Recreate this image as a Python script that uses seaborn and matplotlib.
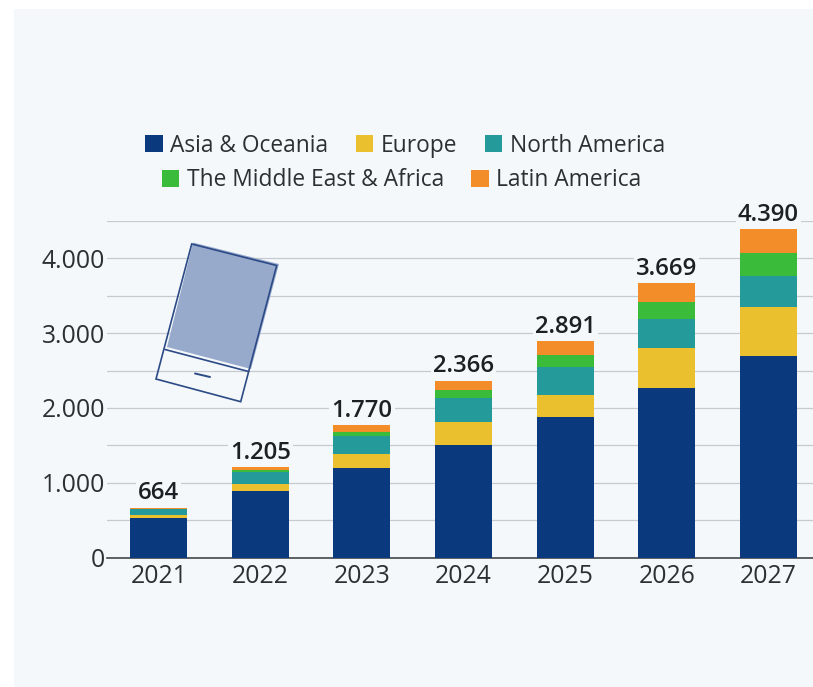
import matplotlib
matplotlib.use("Agg")
import matplotlib.pyplot as plt
from matplotlib.patches import Polygon, Rectangle
from matplotlib.lines import Line2D
from matplotlib.transforms import Affine2D
import numpy as np
import pandas as pd
import seaborn as sns

years = ["2021", "2022", "2023", "2024", "2025", "2026", "2027"]
asia_oceania = [522, 892, 1195, 1506, 1873, 2265, 2694]
europe = [40, 85, 183, 300, 303, 540, 660]
north_america = [84, 169, 245, 321, 366, 392, 410]
middle_east_africa = [6, 31, 58, 111, 165, 223, 312]
latin_america = [12, 28, 89, 128, 184, 249, 314]

region_names = ["Asia & Oceania", "Europe", "North America",
                "The Middle East & Africa", "Latin America"]
region_values = [asia_oceania, europe, north_america,
                 middle_east_africa, latin_america]
region_colors = ["#0b397d", "#ebc02e", "#259a9a", "#3abc3a", "#f28d2a"]

y_major = [0, 1000, 2000, 3000, 4000]
y_minor = [500, 1500, 2500, 3500, 4500]

PANEL = "#f4f8fb"
INK = "#2b3034"
GRID = "#c5cbd0"
W, H = 813, 687

sns.set_theme(style="white")
plt.rcParams["font.family"] = ["Open Sans", "DejaVu Sans"]

fig = plt.figure(figsize=(W / 100, H / 100), dpi=100, facecolor="white")

# Pixel coordinates measured from the top-left corner of the canvas
px = Affine2D().scale(1, -1).translate(0, H)
fig.patches.append(Rectangle((14, 9), W - 14, H - 9, transform=px,
                             facecolor=PANEL, edgecolor="none", zorder=-5))

ax = fig.add_axes([107 / W, (H - 557.5) / H, (W - 107) / W, (557.5 - 220.5) / H])
ax.patch.set_alpha(0)

frame = pd.DataFrame({"year": years})
bottom = np.zeros(len(years))
handles = []
for name, values, color in zip(region_names, region_values, region_colors):
    sns.barplot(data=frame.assign(v=values), x="year", y="v", color=color,
                saturation=1, width=0.561, bottom=bottom, ax=ax, zorder=3,
                linewidth=0, errorbar=None)
    handles.append(Rectangle((0, 0), 1, 1, facecolor=color, edgecolor="none"))
    bottom = bottom + np.array(values)
totals = bottom.astype(int)

ax.set_xlim(-0.509, 6.44)
ax.set_ylim(0, 4508)
ax.set_xlabel("")
ax.set_ylabel("")
ax.set_yticks(y_major)
ax.set_yticklabels([f"{v:,}".replace(",", ".") for v in y_major])
ax.set_yticks(y_minor, minor=True)
ax.grid(True, axis="y", which="both", color=GRID, linewidth=0.9, zorder=0)
ax.set_axisbelow(True)
for side in ("top", "right", "left"):
    ax.spines[side].set_visible(False)
ax.spines["bottom"].set_color("#33383c")
ax.spines["bottom"].set_linewidth(1.1)
ax.tick_params(axis="both", which="both", length=0)
ax.tick_params(axis="x", labelsize=17.8, labelcolor=INK, pad=4.5)
ax.tick_params(axis="y", labelsize=17.8, labelcolor=INK, pad=1.5)

# Stack totals above the bars, knocked out of the gridlines behind them
for i, total in enumerate(totals):
    ax.annotate(f"{total:,}".replace(",", "."), (i, total), xytext=(0, 1.8),
                textcoords="offset points", ha="center", va="bottom",
                fontsize=17.2, fontweight=600, color="#1c2024", zorder=5,
                bbox=dict(facecolor=PANEL, edgecolor="none", pad=1.5))

# Two centred legend rows
common = dict(frameon=False, fontsize=16.4, labelcolor=INK, handlelength=0.78,
              handleheight=0.78, handletextpad=0.32, columnspacing=1.2,
              borderpad=0, borderaxespad=0, loc="center")
fig.legend(handles[:3], region_names[:3], ncol=3,
           bbox_to_anchor=(405 / W, (H - 145.5) / H), **common)
fig.legend(handles[3:], region_names[3:], ncol=2,
           bbox_to_anchor=(401.5 / W, (H - 180.5) / H), **common)

# Tilted handheld device icon
ICON = "#2c4a86"
fig.add_artist(Polygon([(193, 242.5), (279, 264), (251, 369), (167, 347)], closed=True,
                       transform=px, facecolor="#98aacb", edgecolor="none", zorder=2))
fig.add_artist(Polygon([(191.7, 244), (276.7, 265.5), (240.7, 401.7), (156, 379)], closed=True,
                       transform=px, facecolor="none", edgecolor=ICON, linewidth=1.2, zorder=3))
fig.add_artist(Line2D([165, 248.5], [349.5, 371.5], transform=px, color=ICON, linewidth=1.2, zorder=3))
fig.add_artist(Line2D([195, 210], [373.5, 377], transform=px, color=ICON, linewidth=1.4, zorder=3))

fig.savefig("out.png", dpi=100, facecolor="white")
